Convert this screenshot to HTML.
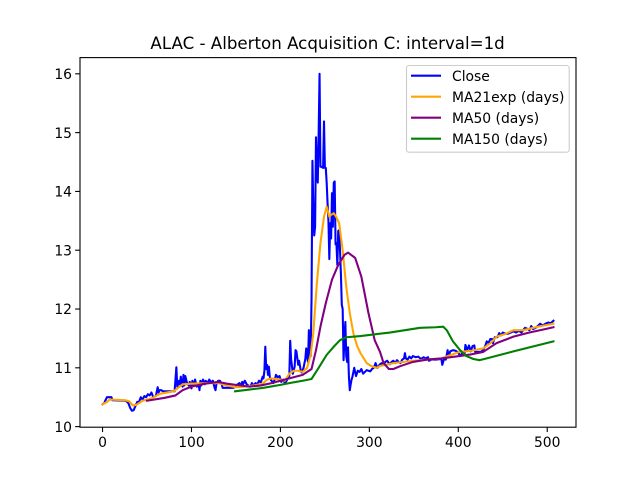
<!DOCTYPE html>
<html>
<head>
<meta charset="utf-8">
<style>
html,body{margin:0;padding:0;background:#fff;}
svg{display:block;}
text{font-family:"DejaVu Sans",sans-serif;fill:#000;}
</style>
</head>
<body>
<svg id="chart" xmlns="http://www.w3.org/2000/svg" width="640" height="480" viewBox="0 0 640 480">
<rect x="0" y="0" width="640" height="480" fill="#fff"/>
<text x="327.6" y="49" font-size="16.67" text-anchor="middle">ALAC - Alberton Acquisition C: interval=1d</text>
<g id="series"></g>
<g id="ticks"></g>
<rect x="80" y="57.6" width="496" height="369.6" fill="none" stroke="#000" stroke-width="1.1"/>
<g>
<rect x="406.5" y="65.5" width="162.7" height="86.7" rx="2.5" fill="#fff" fill-opacity="0.8" stroke="#ccc" stroke-width="1.1"/>
<line x1="411" x2="441" y1="75.7" y2="75.7" stroke="#0000ff" stroke-width="2.08"/>
<text x="452" y="81" font-size="13.89">Close</text>
<line x1="411" x2="441" y1="96.7" y2="96.7" stroke="#ffa500" stroke-width="2.08"/>
<text x="452" y="102" font-size="13.89">MA21exp (days)</text>
<line x1="411" x2="441" y1="117.7" y2="117.7" stroke="#800080" stroke-width="2.08"/>
<text x="452" y="123" font-size="13.89">MA50 (days)</text>
<line x1="411" x2="441" y1="138.7" y2="138.7" stroke="#008000" stroke-width="2.08"/>
<text x="452" y="144" font-size="13.89">MA150 (days)</text>
</g>
</svg>
<script>
const xTickValues = [0, 100, 200, 300, 400, 500];
const yTickValues = [10, 11, 12, 13, 14, 15, 16];

const closeDays = [
0,2,3,5,10,11,26,29,31,33,
35,37,39,41,43,45,47,49,51,53,
55,57,60,61,62,63,64,66,68,81,
82,83,84,85,86,87,88,89,90,91,
92,93,95,97,98,100,101,103,104,106,
108,109,110,111,113,115,116,118,120,122,
124,125,126,127,128,130,132,134,135,147,
150,152,154,156,157,158,160,162,164,166,
168,170,172,174,176,178,180,181,182,183,
184,185,186,187,188,189,190,192,194,195,
197,199,201,203,205,207,208,210,211,212,
214,216,217,218,220,221,223,224,226,228,
229,230,231,232,233,234,235,236,237,238,
239,240,241,242,243,244,245,246,248,249,
250,251,252,253,254,255,256,257,258,259,
260,261,262,263,264,265,266,267,268,269,
270,271,272,273,274,275,276,277,278,279,
280,281,283,285,287,289,291,293,295,297,
299,301,303,305,307,309,312,314,316,318,
320,323,325,327,329,331,333,335,337,339,
340,341,343,345,347,349,352,355,358,361,
363,366,367,370,375,381,382,384,386,388,
389,391,394,397,400,402,405,407,408,410,
412,414,416,418,419,421,425,428,430,432,
434,436,438,439,441,444,446,448,450,453,
456,459,462,465,468,471,473,475,478,480,
482,484,487,490,492,495,498,501,504,507
];
const closeValues = [
10.38,10.4,10.44,10.5,10.5,10.45,10.44,10.4,10.32,10.27,
10.28,10.35,10.42,10.42,10.5,10.46,10.52,10.5,10.55,10.53,
10.58,10.5,10.52,10.6,10.67,10.58,10.62,10.62,10.6,10.6,
10.8,11.01,10.68,10.72,10.78,10.72,10.85,10.72,10.68,10.88,
10.7,10.86,10.74,10.7,10.76,10.65,10.78,10.7,10.8,10.68,
10.72,10.62,10.78,10.7,10.8,10.72,10.78,10.74,10.8,10.75,
10.78,10.72,10.66,10.62,10.72,10.78,10.78,10.72,10.66,10.66,
10.68,10.72,10.74,10.68,10.76,10.72,10.78,10.72,10.7,10.68,
10.74,10.7,10.74,10.72,10.78,10.75,10.85,10.82,10.95,11.36,
10.98,11.05,10.88,11.02,10.85,10.8,10.78,10.74,10.82,10.88,
10.84,10.86,10.76,10.8,10.74,10.78,10.82,10.86,11.46,11.15,
10.9,11.02,11.3,11.28,11.05,11.12,10.94,10.92,11.0,11.15,
11.33,11.2,11.1,11.64,11.2,11.2,12.2,14.52,13.7,13.25,
13.4,14.92,14.4,14.15,15.0,16.0,14.42,14.42,14.4,15.19,
14.4,14.4,14.15,13.8,13.5,12.85,13.46,13.2,13.97,13.4,
14.15,14.17,13.1,13.12,12.75,13.33,13.34,13.0,12.6,12.07,
12.0,11.13,11.5,11.78,11.2,11.1,11.35,10.85,10.62,10.72,
10.8,10.85,11.0,10.86,10.95,10.93,10.98,10.9,10.93,10.96,
10.95,10.94,10.98,11.0,11.08,11.0,11.06,11.08,11.06,11.1,
11.12,11.06,11.1,11.12,11.08,11.13,11.1,11.08,11.14,11.16,
11.25,11.16,11.14,11.19,11.16,11.2,11.18,11.19,11.15,11.18,
11.16,11.18,11.12,11.14,11.14,11.15,11.05,11.15,11.14,11.3,
11.2,11.28,11.3,11.29,11.26,11.2,11.26,11.22,11.39,11.3,
11.38,11.28,11.37,11.38,11.27,11.27,11.27,11.3,11.36,11.45,
11.42,11.49,11.49,11.42,11.52,11.52,11.59,11.55,11.6,11.58,
11.58,11.6,11.62,11.6,11.63,11.6,11.64,11.68,11.66,11.64,
11.71,11.66,11.68,11.72,11.75,11.72,11.75,11.77,11.76,11.8
];

const ma21Days = [0,5,8,25,30,34,38,45,55,65,80,85,90,100,120,130,140,150,160,170,180,185,190,200,205,210,215,220,225,230,234,237,241,245,249,252,255,257,260,263,266,270,274,278,282,286,290,297,302,308,312,327,349,365,381,401,415,428,437,443,452,462,473,490,507];
const ma21Values = [10.38,10.42,10.46,10.45,10.43,10.36,10.37,10.44,10.48,10.56,10.6,10.66,10.72,10.73,10.74,10.74,10.7,10.67,10.68,10.7,10.73,10.8,10.82,10.8,10.78,10.9,10.95,10.95,10.93,11.0,11.22,11.6,12.44,13.12,13.57,13.74,13.57,13.6,13.63,13.56,13.46,13.0,12.38,11.93,11.59,11.38,11.25,11.08,11.03,11.0,11.03,11.08,11.12,11.14,11.16,11.27,11.29,11.33,11.43,11.53,11.57,11.64,11.64,11.7,11.75];

const ma50Days = [50,70,82,90,100,115,130,140,150,165,178,190,200,210,225,235,240,245,251,258,265,272,276,284,291,299,306,312,316,322,327,335,349,365,381,401,415,428,443,462,480,495,507];
const ma50Values = [10.44,10.49,10.53,10.62,10.68,10.73,10.76,10.73,10.71,10.68,10.7,10.74,10.78,10.82,10.88,10.98,11.3,11.7,12.1,12.5,12.75,12.92,12.96,12.87,12.55,11.93,11.47,11.27,11.08,10.98,10.98,11.03,11.1,11.14,11.16,11.2,11.23,11.27,11.42,11.53,11.6,11.65,11.69];

const ma150Days = [149,165,181,200,210,225,235,243,252,260,267,274,290,323,340,357,375,383,387,394,402,409,417,424,432,462,507];
const ma150Values = [10.6,10.63,10.66,10.71,10.74,10.78,10.81,11.0,11.22,11.36,11.47,11.52,11.54,11.6,11.64,11.68,11.69,11.7,11.64,11.45,11.3,11.2,11.15,11.13,11.16,11.28,11.45];

const xDomain = [-25.35, 532.35];
const yDomain = [9.99, 16.276];
const plotLeft = 80, plotRight = 576, plotTop = 57.6, plotBottom = 427.2;
const NS = 'http://www.w3.org/2000/svg';

function xScale(v) {
  return plotLeft + (v - xDomain[0]) / (xDomain[1] - xDomain[0]) * (plotRight - plotLeft);
}
function yScale(v) {
  return plotBottom - (v - yDomain[0]) / (yDomain[1] - yDomain[0]) * (plotBottom - plotTop);
}
function pathFrom(days, values) {
  return days.map(function (d, i) {
    return (i ? 'L' : 'M') + xScale(d).toFixed(2) + ' ' + yScale(values[i]).toFixed(2);
  }).join('');
}
function drawLine(name, days, values, color) {
  const p = document.createElementNS(NS, 'path');
  
  
  p.setAttribute('d', pathFrom(days, values));
  p.setAttribute('fill', 'none');
  p.setAttribute('stroke', color);
  p.setAttribute('stroke-width', '2.08');
  p.setAttribute('stroke-linejoin', 'round');
  p.setAttribute('stroke-linecap', 'square');
  document.getElementById('series').appendChild(p);
}
drawLine('close-line', closeDays, closeValues, '#0000ff');
drawLine('ma21exp-line', ma21Days, ma21Values, '#ffa500');
drawLine('ma50-line', ma50Days, ma50Values, '#800080');
drawLine('ma150-line', ma150Days, ma150Values, '#008000');

const ticks = document.getElementById('ticks');
xTickValues.forEach(function (v) {
  const x = xScale(v);
  const t = document.createElementNS(NS, 'line');
  
  
  t.setAttribute('x1', x);
  t.setAttribute('x2', x);
  t.setAttribute('y1', plotBottom);
  t.setAttribute('y2', plotBottom + 4.86);
  t.setAttribute('stroke', '#000');
  t.setAttribute('stroke-width', '1.1');
  ticks.appendChild(t);
  const l = document.createElementNS(NS, 'text');
  
  
  l.setAttribute('x', x);
  l.setAttribute('y', 447);
  l.setAttribute('font-size', '13.89');
  l.setAttribute('text-anchor', 'middle');
  l.textContent = String(v);
  ticks.appendChild(l);
});
yTickValues.forEach(function (v) {
  const y = yScale(v);
  const t = document.createElementNS(NS, 'line');
  
  
  t.setAttribute('x1', plotLeft - 4.86);
  t.setAttribute('x2', plotLeft);
  t.setAttribute('y1', y);
  t.setAttribute('y2', y);
  t.setAttribute('stroke', '#000');
  t.setAttribute('stroke-width', '1.1');
  ticks.appendChild(t);
  const l = document.createElementNS(NS, 'text');
  
  
  l.setAttribute('x', 72);
  l.setAttribute('y', y + 5.2);
  l.setAttribute('font-size', '13.89');
  l.setAttribute('text-anchor', 'end');
  l.textContent = String(v);
  ticks.appendChild(l);
});
</script>
</body>
</html>
